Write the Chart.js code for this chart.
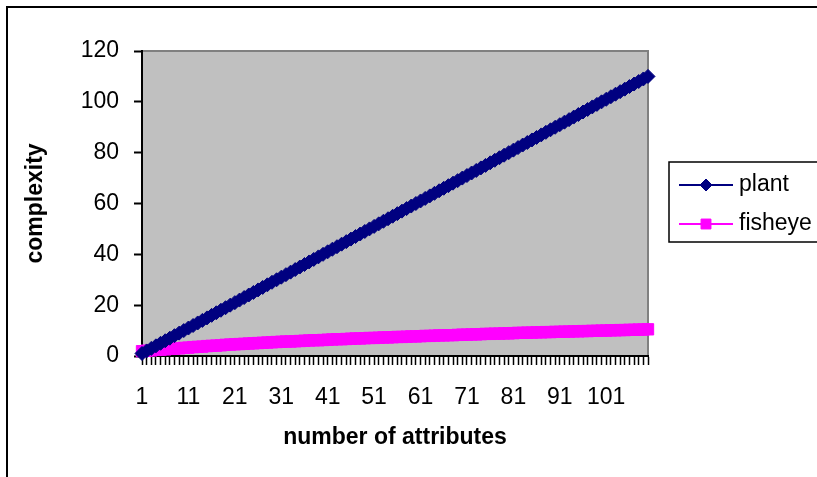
<!DOCTYPE html>
<html>
<head>
<meta charset="utf-8">
<script src="https://cdn.jsdelivr.net/npm/chart.js@4"></script>
<style>
  html, body { margin: 0; padding: 0; background: #fff; }
  canvas { display: block; }
</style>
</head>
<body>
<canvas id="chart" width="817" height="477"></canvas>
<script>
// Data
const categories = [
  1, 2, 3, 4, 5, 6, 7, 8, 9, 10, 11, 12, 13, 14, 15, 16, 17, 18, 19, 20,
  21, 22, 23, 24, 25, 26, 27, 28, 29, 30, 31, 32, 33, 34, 35, 36, 37, 38, 39, 40,
  41, 42, 43, 44, 45, 46, 47, 48, 49, 50, 51, 52, 53, 54, 55, 56, 57, 58, 59, 60,
  61, 62, 63, 64, 65, 66, 67, 68, 69, 70, 71, 72, 73, 74, 75, 76, 77, 78, 79, 80,
  81, 82, 83, 84, 85, 86, 87, 88, 89, 90, 91, 92, 93, 94, 95, 96, 97, 98, 99, 100,
  101, 102, 103, 104, 105, 106, 107, 108, 109, 110
];
const plant = [
  1, 2, 3, 4, 5, 6, 7, 8, 9, 10, 11, 12, 13, 14, 15, 16, 17, 18, 19, 20,
  21, 22, 23, 24, 25, 26, 27, 28, 29, 30, 31, 32, 33, 34, 35, 36, 37, 38, 39, 40,
  41, 42, 43, 44, 45, 46, 47, 48, 49, 50, 51, 52, 53, 54, 55, 56, 57, 58, 59, 60,
  61, 62, 63, 64, 65, 66, 67, 68, 69, 70, 71, 72, 73, 74, 75, 76, 77, 78, 79, 80,
  81, 82, 83, 84, 85, 86, 87, 88, 89, 90, 91, 92, 93, 94, 95, 96, 97, 98, 99, 100,
  101, 102, 103, 104, 105, 106, 107, 108, 109, 110
];
const fisheye = [
  1.9, 2.1, 2.2, 2.4, 2.5, 2.6, 2.8, 2.9, 3.0, 3.2, 3.3, 3.5, 3.6, 3.7, 3.9, 4.0, 4.1, 4.2, 4.4, 4.5,
  4.6, 4.7, 4.8, 4.9, 5.0, 5.1, 5.2, 5.3, 5.4, 5.5, 5.6, 5.7, 5.7, 5.8, 5.9, 6.0, 6.1, 6.2, 6.2, 6.3,
  6.4, 6.5, 6.6, 6.6, 6.7, 6.8, 6.9, 6.9, 7.0, 7.1, 7.1, 7.2, 7.3, 7.3, 7.4, 7.5, 7.5, 7.6, 7.7, 7.7,
  7.8, 7.9, 7.9, 8.0, 8.1, 8.1, 8.2, 8.2, 8.3, 8.4, 8.4, 8.5, 8.5, 8.6, 8.7, 8.7, 8.8, 8.8, 8.9, 8.9,
  9.0, 9.1, 9.1, 9.2, 9.2, 9.3, 9.3, 9.4, 9.4, 9.5, 9.5, 9.6, 9.6, 9.7, 9.7, 9.8, 9.8, 9.9, 9.9, 10.0,
  10.0, 10.1, 10.1, 10.2, 10.2, 10.3, 10.3, 10.4, 10.4, 10.5
];
const xTickLabels = [1, 11, 21, 31, 41, 51, 61, 71, 81, 91, 101];
const yTicks = [0, 20, 40, 60, 80, 100, 120];

const FONT = "'Liberation Sans', Arial, sans-serif";

// Background, outer frame and grey plot area
const frame = {
    id: 'frame',
    beforeDraw(chart) {
        const { ctx, chartArea: a } = chart;
        ctx.save();
        ctx.fillStyle = '#fff';
        ctx.fillRect(0, 0, chart.width, chart.height);
        ctx.strokeStyle = '#000';
        ctx.lineWidth = 2;
        ctx.strokeRect(7, 7, chart.width + 20, chart.height + 20);
        ctx.fillStyle = '#c0c0c0';
        ctx.fillRect(a.left, a.top, a.right - a.left, a.bottom - a.top);
        ctx.strokeStyle = '#808080';
        ctx.lineWidth = 2;
        ctx.beginPath();
        ctx.moveTo(a.left, a.top);
        ctx.lineTo(a.right, a.top);
        ctx.lineTo(a.right, a.bottom);
        ctx.stroke();
        ctx.restore();
    }
};

// Excel style legend box on the right
const boxLegend = {
    id: 'boxLegend',
    afterDraw(chart) {
        const { ctx } = chart;
        ctx.save();
        ctx.strokeStyle = '#000';
        ctx.lineWidth = 1.5;
        ctx.strokeRect(669, 162, 200, 80);
        chart.data.datasets.forEach((ds, i) => {
            const y = 185 + i * 39;
            ctx.strokeStyle = ds.borderColor;
            ctx.lineWidth = 2;
            ctx.beginPath();
            ctx.moveTo(679, y);
            ctx.lineTo(733, y);
            ctx.stroke();
            ctx.fillStyle = ds.backgroundColor;
            ctx.lineWidth = 1;
            Chart.helpers.drawPoint(ctx, { pointStyle: ds.pointStyle, radius: ds.pointStyle === 'rect' ? 7 : 6, borderWidth: 1, rotation: 0 }, 706, y);
            ctx.fillStyle = '#000';
            ctx.font = '23px ' + FONT;
            ctx.textBaseline = 'middle';
            ctx.textAlign = 'left';
            ctx.fillText(ds.label, 739, y);
        });
        ctx.restore();
    }
};

new Chart(document.getElementById('chart'), {
    type: 'line',
    data: {
        labels: categories,
        datasets: [
            {
                label: 'plant',
                data: plant,
                borderColor: '#000080',
                backgroundColor: '#000080',
                borderWidth: 2,
                pointStyle: 'rectRot',
                pointRadius: 7,
                pointBorderWidth: 1,
                clip: false
            },
            {
                label: 'fisheye',
                data: fisheye,
                borderColor: '#ff00ff',
                backgroundColor: '#ff00ff',
                borderWidth: 2,
                pointStyle: 'rect',
                pointRadius: 8,
                pointBorderWidth: 1,
                clip: false
            }
        ]
    },
    options: {
        responsive: false,
        animation: false,
        devicePixelRatio: 1,
        layout: { padding: { left: 0, top: 51, right: 169, bottom: 0 } },
        plugins: {
            legend: { display: false },
            tooltip: { enabled: false }
        },
        scales: {
            x: {
                type: 'category',
                offset: false,
                afterFit: scale => { scale.height = 121; },
                grid: { drawOnChartArea: false, drawTicks: true, tickLength: 9, tickWidth: 1.5, color: '#000', offset: false },
                border: { color: '#000', width: 2 },
                ticks: {
                    autoSkip: false,
                    maxRotation: 0,
                    minRotation: 0,
                    padding: 19,
                    color: '#000',
                    font: { family: FONT, size: 23 },
                    callback: function (v, i) {
                        return xTickLabels.includes(categories[i]) ? String(categories[i]) : '';
                    }
                },
                title: {
                    display: true,
                    text: 'number of attributes',
                    color: '#000',
                    font: { family: FONT, size: 23, weight: 'bold' },
                    padding: { top: 0, bottom: 26 }
                }
            },
            y: {
                min: 0,
                max: 120,
                afterFit: scale => { scale.width = 142; },
                afterBuildTicks: scale => { scale.ticks = yTicks.map(v => ({ value: v })); },
                grid: { drawOnChartArea: false, drawTicks: true, tickLength: 8, tickWidth: 2, color: '#000' },
                border: { color: '#000', width: 2 },
                ticks: {
                    padding: 15,
                    color: '#000',
                    font: { family: FONT, size: 23 }
                },
                title: {
                    display: true,
                    text: 'complexity',
                    color: '#000',
                    font: { family: FONT, size: 23, weight: 'bold' },
                    padding: { top: 22, bottom: 0 }
                }
            }
        }
    },
    plugins: [frame, boxLegend]
});
</script>
</body>
</html>
